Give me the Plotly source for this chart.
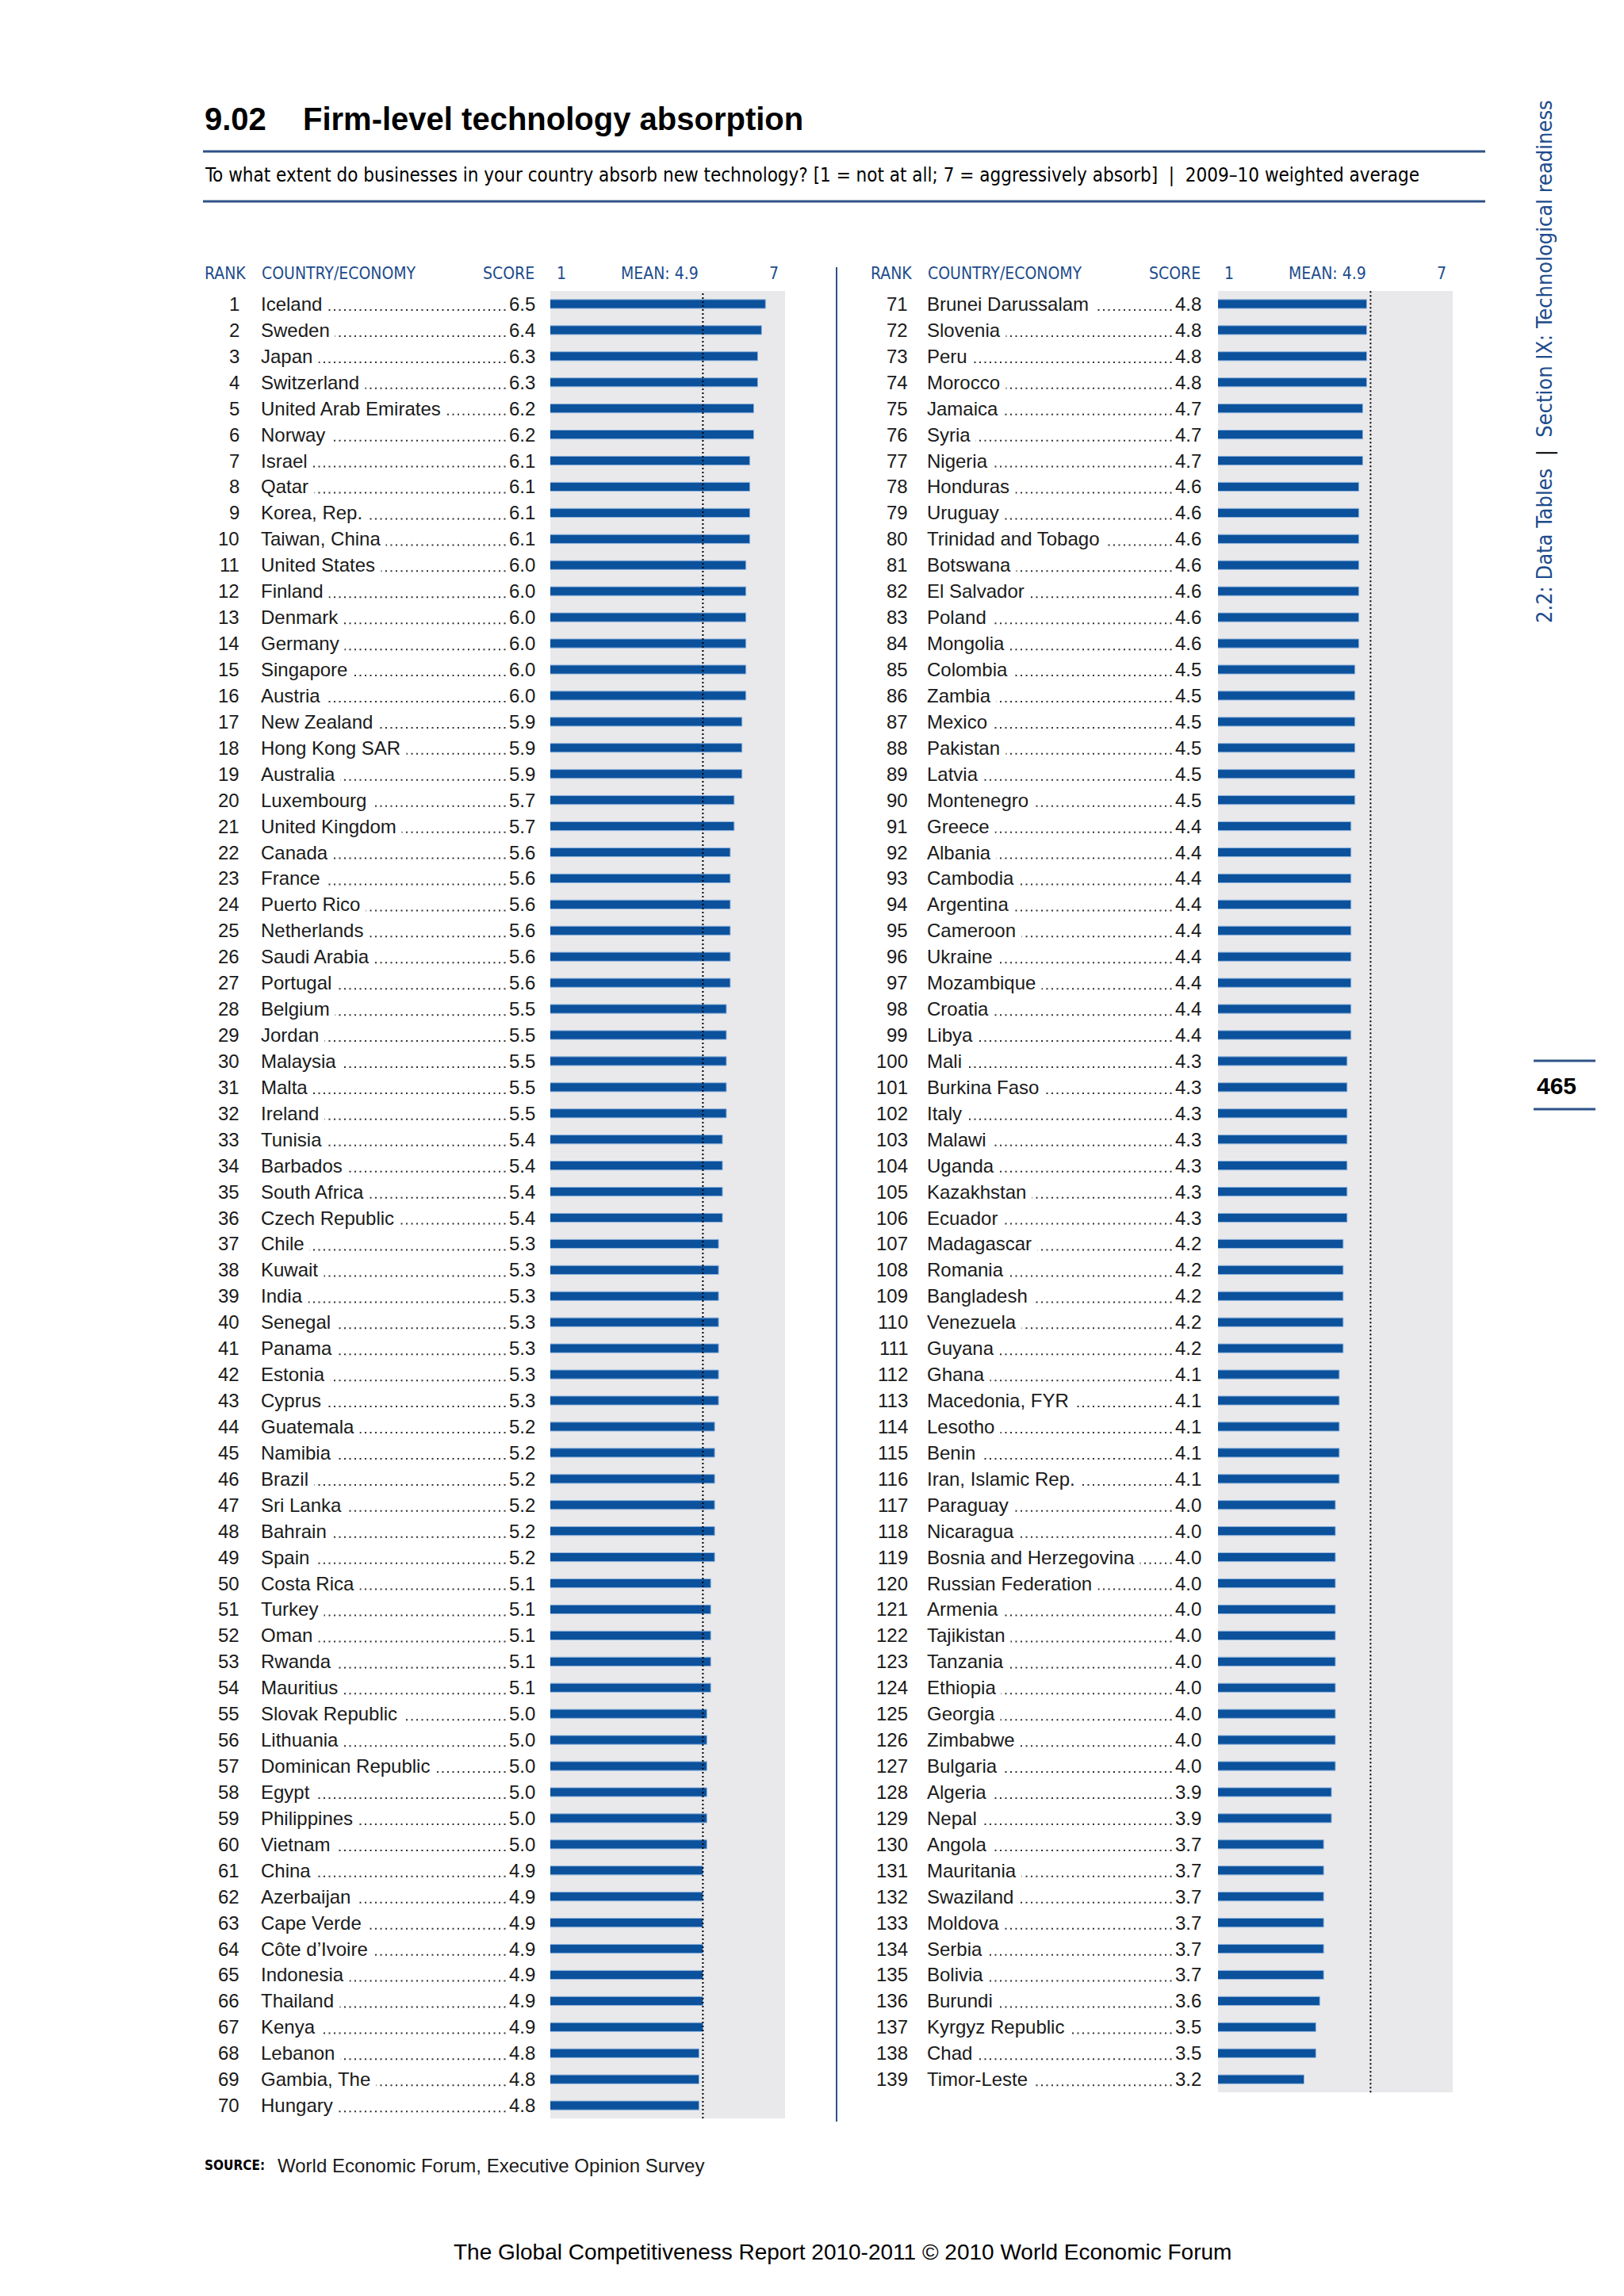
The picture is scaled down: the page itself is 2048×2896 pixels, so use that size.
import plotly.graph_objects as go

W, H = 2048, 2896

# ---------------- data ----------------
countries_left = [
    "Iceland", "Sweden", "Japan", "Switzerland", "United Arab Emirates", "Norway", "Israel", "Qatar",
    "Korea, Rep.", "Taiwan, China", "United States", "Finland", "Denmark", "Germany", "Singapore",
    "Austria", "New Zealand", "Hong Kong SAR", "Australia", "Luxembourg", "United Kingdom", "Canada",
    "France", "Puerto Rico", "Netherlands", "Saudi Arabia", "Portugal", "Belgium", "Jordan", "Malaysia",
    "Malta", "Ireland", "Tunisia", "Barbados", "South Africa", "Czech Republic", "Chile", "Kuwait",
    "India", "Senegal", "Panama", "Estonia", "Cyprus", "Guatemala", "Namibia", "Brazil", "Sri Lanka",
    "Bahrain", "Spain", "Costa Rica", "Turkey", "Oman", "Rwanda", "Mauritius", "Slovak Republic",
    "Lithuania", "Dominican Republic", "Egypt", "Philippines", "Vietnam", "China", "Azerbaijan",
    "Cape Verde", "Côte d\u2019Ivoire", "Indonesia", "Thailand", "Kenya", "Lebanon", "Gambia, The", "Hungary",
]
scores_left = [
    6.5, 6.4, 6.3, 6.3, 6.2, 6.2, 6.1, 6.1, 6.1, 6.1, 6.0, 6.0, 6.0, 6.0, 6.0, 6.0, 5.9, 5.9, 5.9, 5.7,
    5.7, 5.6, 5.6, 5.6, 5.6, 5.6, 5.6, 5.5, 5.5, 5.5, 5.5, 5.5, 5.4, 5.4, 5.4, 5.4, 5.3, 5.3, 5.3, 5.3,
    5.3, 5.3, 5.3, 5.2, 5.2, 5.2, 5.2, 5.2, 5.2, 5.1, 5.1, 5.1, 5.1, 5.1, 5.0, 5.0, 5.0, 5.0, 5.0, 5.0,
    4.9, 4.9, 4.9, 4.9, 4.9, 4.9, 4.9, 4.8, 4.8, 4.8,
]
ranks_left = list(range(1, 71))

countries_right = [
    "Brunei Darussalam", "Slovenia", "Peru", "Morocco", "Jamaica", "Syria", "Nigeria", "Honduras",
    "Uruguay", "Trinidad and Tobago", "Botswana", "El Salvador", "Poland", "Mongolia", "Colombia",
    "Zambia", "Mexico", "Pakistan", "Latvia", "Montenegro", "Greece", "Albania", "Cambodia", "Argentina",
    "Cameroon", "Ukraine", "Mozambique", "Croatia", "Libya", "Mali", "Burkina Faso", "Italy", "Malawi",
    "Uganda", "Kazakhstan", "Ecuador", "Madagascar", "Romania", "Bangladesh", "Venezuela", "Guyana",
    "Ghana", "Macedonia, FYR", "Lesotho", "Benin", "Iran, Islamic Rep.", "Paraguay", "Nicaragua",
    "Bosnia and Herzegovina", "Russian Federation", "Armenia", "Tajikistan", "Tanzania", "Ethiopia",
    "Georgia", "Zimbabwe", "Bulgaria", "Algeria", "Nepal", "Angola", "Mauritania", "Swaziland",
    "Moldova", "Serbia", "Bolivia", "Burundi", "Kyrgyz Republic", "Chad", "Timor-Leste",
]
scores_right = [
    4.8, 4.8, 4.8, 4.8, 4.7, 4.7, 4.7, 4.6, 4.6, 4.6, 4.6, 4.6, 4.6, 4.6, 4.5, 4.5, 4.5, 4.5, 4.5, 4.5,
    4.4, 4.4, 4.4, 4.4, 4.4, 4.4, 4.4, 4.4, 4.4, 4.3, 4.3, 4.3, 4.3, 4.3, 4.3, 4.3, 4.2, 4.2, 4.2, 4.2,
    4.2, 4.1, 4.1, 4.1, 4.1, 4.1, 4.0, 4.0, 4.0, 4.0, 4.0, 4.0, 4.0, 4.0, 4.0, 4.0, 4.0, 3.9, 3.9, 3.7,
    3.7, 3.7, 3.7, 3.7, 3.7, 3.6, 3.5, 3.5, 3.2,
]
ranks_right = list(range(71, 140))

mean_score = 4.9
scale_min, scale_max = 1, 7

# ---------------- style ----------------
BLUE_TEXT = "#1d4c8c"
LINE_BLUE = "#2f5288"
BAR = "#0b519c"
BAR_EDGE = "#8fb3dc"
BG = "#e9e9eb"
TXT = "#1a1a1a"
BODY = "Liberation Sans, Arial, sans-serif"
NARROW = "DejaVu Sans Condensed, Liberation Sans, sans-serif"
FS = 24
ROW_H = 32.93
TOP = 359


def px(x):
    return x / W


def py(y):
    return 1 - y / H


panels = [
    dict(ax="", names=countries_left, scores=scores_left, ranks=ranks_left,
         x0=686, x1=982, rank_r=296, rank_l=248, name_l=320, score_r=668),
    dict(ax="2", names=countries_right, scores=scores_right, ranks=ranks_right,
         x0=1528, x1=1824, rank_r=1139, rank_l=1088, name_l=1160, score_r=1508),
]

fig = go.Figure()
annotations = []
shapes = []
layout_axes = {}

for p in panels:
    n = len(p["names"])
    xa, ya = "x" + p["ax"], "y" + p["ax"]
    bottom = TOP + n * ROW_H
    fig.add_trace(go.Bar(
        x=p["scores"], y=p["names"], orientation="h",
        xaxis=xa, yaxis=ya, width=0.34,
        marker=dict(color=BAR, line=dict(color=BAR_EDGE, width=1)),
        hovertemplate="%{y}: %{x}<extra></extra>", showlegend=False,
    ))
    layout_axes["xaxis" + p["ax"]] = dict(
        domain=[px(p["x0"]), px(p["x1"])], range=[scale_min, scale_max],
        showgrid=False, zeroline=False, showticklabels=False, showline=False, ticks="",
        anchor=ya, fixedrange=True)
    layout_axes["yaxis" + p["ax"]] = dict(
        domain=[py(bottom), py(TOP)], type="category", categoryorder="array",
        categoryarray=p["names"], range=[n - 0.5, -0.5],
        showgrid=False, zeroline=False, showticklabels=False, showline=False, ticks="",
        anchor=xa, fixedrange=True)

    # mean dotted line
    shapes.append(dict(type="line", xref=xa, yref=ya + " domain", x0=mean_score, x1=mean_score,
                       y0=0, y1=1, line=dict(color="black", width=2, dash="2px,3px"), layer="above"))

    # column headers
    hy = py(337)
    hfont = dict(family=NARROW, size=21, color=BLUE_TEXT)
    annotations += [
        dict(x=px(p["rank_l"]), y=hy, xref="paper", yref="paper", text="RANK",
             xanchor="left", yanchor="middle", showarrow=False, font=hfont),
        dict(x=px(p["name_l"]), y=hy, xref="paper", yref="paper", text="COUNTRY/ECONOMY",
             xanchor="left", yanchor="middle", showarrow=False, font=hfont),
        dict(x=px(p["score_r"]), y=hy, xref="paper", yref="paper", text="SCORE",
             xanchor="right", yanchor="middle", showarrow=False, font=hfont),
        dict(x=scale_min, y=hy, xref=xa, yref="paper", text=str(scale_min),
             xanchor="left", yanchor="middle", showarrow=False, font=hfont, xshift=6),
        dict(x=mean_score, y=hy, xref=xa, yref="paper", text=f"MEAN: {mean_score}",
             xanchor="right", yanchor="middle", showarrow=False, font=hfont, xshift=-3),
        dict(x=scale_max, y=hy, xref=xa, yref="paper", text=str(scale_max),
             xanchor="right", yanchor="middle", showarrow=False, font=hfont, xshift=-6),
    ]

    rfont = dict(family=BODY, size=FS, color=TXT)
    for i, (name, sc, rk) in enumerate(zip(p["names"], p["scores"], p["ranks"])):
        # dot leader
        shapes.append(dict(type="line", xref="paper", yref=ya, x0=px(p["name_l"] + 2),
                           x1=px(p["score_r"] - 8), y0=i + 0.23, y1=i + 0.23,
                           line=dict(color="#333333", width=2, dash="2px,4.5px"), layer="above"))
        annotations += [
            dict(x=px(p["rank_r"]), y=i, xref="paper", yref=ya, text=str(rk),
                 xanchor="right", yanchor="middle", showarrow=False, font=rfont),
            dict(x=px(p["name_l"]), y=i, xref="paper", yref=ya, text=name + "\u00a0",
                 xanchor="left", yanchor="middle", showarrow=False, font=rfont,
                 bgcolor="white", borderpad=0),
            dict(x=px(p["score_r"]), y=i, xref="paper", yref=ya, text=f"{sc:.1f}",
                 xanchor="right", yanchor="middle", showarrow=False, font=rfont,
                 bgcolor="white", borderpad=0),
        ]

# separator between panels
shapes.append(dict(type="line", xref="paper", yref="paper", x0=px(1047), x1=px(1047),
                   y0=py(329), y1=py(2668), line=dict(color=LINE_BLUE, width=2)))
# title rules
for yy in (183, 246):
    shapes.append(dict(type="line", xref="paper", yref="paper", x0=px(248), x1=px(1865),
                       y0=py(yy), y1=py(yy), line=dict(color=LINE_BLUE, width=3)))
# page number rules
for yy in (1330, 1391):
    shapes.append(dict(type="line", xref="paper", yref="paper", x0=px(1926), x1=px(2004),
                       y0=py(yy), y1=py(yy), line=dict(color=LINE_BLUE, width=3)))

TITLE_FONT = dict(family="Liberation Sans, Arial, sans-serif", size=40, color="black")
annotations += [
    dict(x=px(248), y=py(142), xref="paper", yref="paper", text="<b>9.02</b>",
         xanchor="left", yanchor="middle", showarrow=False, font=TITLE_FONT),
    dict(x=px(372), y=py(142), xref="paper", yref="paper", text="<b>Firm-level technology absorption</b>",
         xanchor="left", yanchor="middle", showarrow=False, font=TITLE_FONT),
    dict(x=px(248), y=py(213), xref="paper", yref="paper",
         text="To what extent do businesses in your country absorb new technology? "
              "[1 = not at all; 7 = aggressively absorb]  |  2009\u201310 weighted average",
         xanchor="left", yanchor="middle", showarrow=False,
         font=dict(family=NARROW, size=24, color="black")),
    dict(x=px(1940), y=py(448), xref="paper", yref="paper",
         text="2.2: Data Tables  <span style='color:black'>|</span>  Section IX: Technological readiness",
         textangle=-90, xanchor="center", yanchor="middle", showarrow=False,
         font=dict(family=NARROW, size=27, color=BLUE_TEXT)),
    dict(x=px(1928), y=py(1361), xref="paper", yref="paper", text="<b>465</b>",
         xanchor="left", yanchor="middle", showarrow=False,
         font=dict(family="Liberation Sans, Arial, sans-serif", size=30, color="black")),
    dict(x=px(248), y=py(2723), xref="paper", yref="paper", text="<b>SOURCE:</b>",
         xanchor="left", yanchor="middle", showarrow=False,
         font=dict(family=NARROW, size=17, color="black")),
    dict(x=px(340), y=py(2723), xref="paper", yref="paper",
         text="World Economic Forum, Executive Opinion Survey",
         xanchor="left", yanchor="middle", showarrow=False,
         font=dict(family=BODY, size=24, color=TXT)),
    dict(x=px(1054), y=py(2832), xref="paper", yref="paper",
         text="The Global Competitiveness Report 2010-2011 \u00a9 2010 World Economic Forum",
         xanchor="center", yanchor="middle", showarrow=False,
         font=dict(family="Liberation Sans, Arial, sans-serif", size=28, color="black")),
]

fig.update_layout(
    width=W, height=H, margin=dict(l=0, r=0, t=0, b=0),
    paper_bgcolor="white", plot_bgcolor=BG, bargap=0.66,
    annotations=annotations, shapes=shapes, showlegend=False,
    **layout_axes,
)

fig.write_html("out.html")
